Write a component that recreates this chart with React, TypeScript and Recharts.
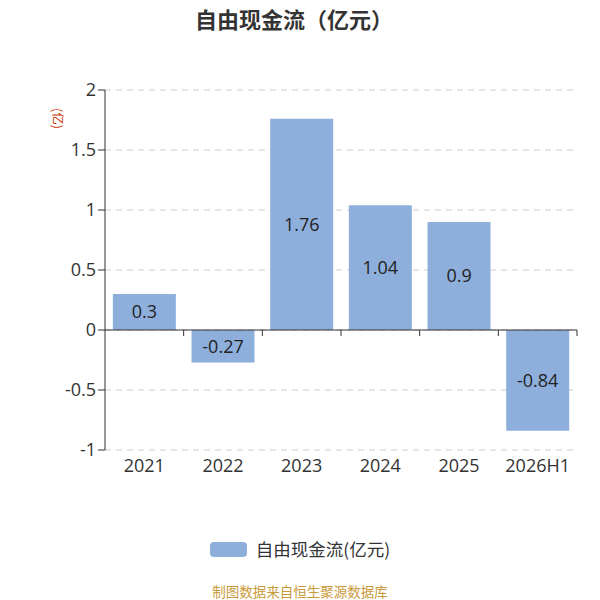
import React from "react";
import { BarChart, Bar, XAxis, YAxis, CartesianGrid, ReferenceLine, LabelList } from "recharts";

const categories = ["2021", "2022", "2023", "2024", "2025", "2026H1"];
const values = [0.3, -0.27, 1.76, 1.04, 0.9, -0.84];
const yTicks = [-1, -0.5, 0, 0.5, 1, 1.5, 2];
const seriesName = "自由现金流(亿元)";
const title = "自由现金流（亿元）";
const unitLabel = "(亿)";
const footer = "制图数据来自恒生聚源数据库";

const data = categories.map((c, i) => ({ name: c, value: values[i] }));

const FONT = "'Open Sans', 'Noto Sans CJK SC', sans-serif";
const CJK = "'Noto Sans CJK SC', sans-serif";
const BAR_COLOR = "#8eafdc";

const ZeroAxis = (props: any) => {
  const { x1, y1, x2 } = props;
  const n = categories.length;
  const step = (x2 - x1) / n;
  const ticks = [];
  for (let i = 1; i <= n; i++) {
    const x = x1 + step * i;
    ticks.push(<line key={i} x1={x} x2={x} y1={y1} y2={y1 + 6} stroke="#333" strokeWidth={1} />);
  }
  return (
    <g>
      <line x1={x1} x2={x2} y1={y1} y2={y1} stroke="#333" strokeWidth={1} />
      {ticks}
    </g>
  );
};

export default function App() {
  return (
    <div style={{ position: "absolute", left: 0, top: 0, width: 600, height: 600, background: "#fff", fontFamily: FONT }}>
      <div style={{ position: "absolute", left: 0, top: 4, width: 588, textAlign: "center", fontSize: 22, fontWeight: "bold", color: "#333", fontFamily: CJK, lineHeight: "28px" }}>
        {title}
      </div>
      <BarChart width={600} height={600} data={data} margin={{ top: 90, right: 23, left: 0, bottom: 120 }} barCategoryGap="10%">
        <CartesianGrid vertical={false} stroke="#ccc" strokeDasharray="6 5" />
        <XAxis dataKey="name" axisLine={false} tickLine={false} height={30} tick={{ fill: "#333", fontSize: 18, fontFamily: FONT }} dy={1} />
        <YAxis
          width={105}
          domain={[-1, 2]}
          ticks={yTicks}
          interval={0}
          axisLine={{ stroke: "#333" }}
          tickLine={{ stroke: "#333" }}
          tickSize={7}
          tick={{ fill: "#333", fontSize: 18, fontFamily: FONT }}
        />
        <ReferenceLine y={0} shape={(p: any) => <ZeroAxis {...p} />} />
        <Bar dataKey="value" name={seriesName} fill={BAR_COLOR} isAnimationActive={false}>
          <LabelList dataKey="value" position="center" fill="#222" fontSize={18} fontFamily={FONT} />
        </Bar>
      </BarChart>
      <div style={{ position: "absolute", left: 50, top: 107, width: 16, height: 22, display: "flex", alignItems: "center", justifyContent: "center" }}>
        <div style={{ transform: "rotate(90deg)", fontSize: 12.5, color: "#cc3300", fontFamily: CJK, whiteSpace: "nowrap" }}>{unitLabel}</div>
      </div>
      <div style={{ position: "absolute", left: 0, top: 537, width: 600, display: "flex", justifyContent: "center", alignItems: "center", fontFamily: CJK }}>
        <div style={{ width: 37, height: 15, background: BAR_COLOR, borderRadius: 4, marginRight: 9 }} />
        <span style={{ fontSize: 17.5, color: "#333", lineHeight: "24px" }}>{seriesName}</span>
      </div>
      <div style={{ position: "absolute", left: 0, top: 581, width: 600, textAlign: "center", fontSize: 13.5, color: "#c99a3a", fontFamily: CJK, lineHeight: "20px" }}>
        {footer}
      </div>
    </div>
  );
}
